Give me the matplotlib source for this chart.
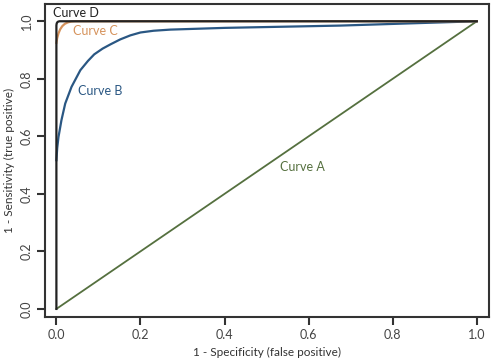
import numpy as np
import matplotlib.pyplot as plt

plt.rcParams['font.family'] = ['Lato', 'DejaVu Sans']

# curve data (false positive rate, true positive rate)
a_x = [0.0, 1.0]
a_y = [0.0, 1.0]

b_x = [0.0, 0.002, 0.005, 0.012, 0.021, 0.036, 0.057, 0.075, 0.09, 0.11, 0.129,
       0.152, 0.176, 0.2, 0.231, 0.271, 0.4, 0.676, 1.0]
b_y = [0.517, 0.56, 0.598, 0.656, 0.714, 0.772, 0.83, 0.862, 0.885, 0.905, 0.92,
       0.937, 0.951, 0.961, 0.967, 0.971, 0.977, 0.985, 1.0]

c_x = [0.0, 0.002, 0.005, 0.009, 0.014, 0.02, 0.027, 0.035, 0.045, 1.0]
c_y = [0.925, 0.942, 0.958, 0.972, 0.983, 0.991, 0.996, 0.999, 1.0, 1.0]

d_x = [0.0, 0.0, 0.0008, 0.003, 0.007, 0.012, 1.0]
d_y = [0.0, 0.986, 0.993, 0.998, 1.0, 1.0, 1.0]

ticks = [0.0, 0.2, 0.4, 0.6, 0.8, 1.0]

fig = plt.figure(figsize=(4.95, 3.64), dpi=100)
ax = fig.add_axes([0.091, 0.130, 0.896, 0.859])

ax.plot(a_x, a_y, color='#55703f', lw=1.3)
ax.plot(b_x, b_y, color='#2a5783', lw=1.6)
ax.plot(c_x, c_y, color='#d6935c', lw=1.6)
ax.plot(d_x, d_y, color='#222222', lw=1.6)

ax.text(-0.007, 1.028, 'Curve D', color='#222222', fontsize=9, va='center')
ax.text(0.04, 0.966, 'Curve C', color='#d6935c', fontsize=9, va='center')
ax.text(0.051, 0.758, 'Curve B', color='#2a5783', fontsize=9, va='center')
ax.text(0.533, 0.492, 'Curve A', color='#55703f', fontsize=9, va='center')

ax.set_xlim(-0.027, 1.028)
ax.set_ylim(-0.027, 1.06)
ax.set_xticks(ticks)
ax.set_yticks(ticks)
ax.set_xticklabels([f'{t:.1f}' for t in ticks])
ax.set_yticklabels([f'{t:.1f}' for t in ticks], rotation=90, va='center')
ax.tick_params(length=6, width=1.5, color='#333333', labelsize=9, labelcolor='#444444', pad=3)
for s in ax.spines.values():
    s.set_linewidth(1.5)
    s.set_color('#333333')

ax.set_xlabel('1 - Specificity (false positive)', fontsize=8.5, color='#333333', labelpad=4)
ax.set_ylabel('1 - Sensitivity (true positive)', fontsize=8.5, color='#333333', labelpad=4)

fig.savefig('out.png', dpi=100)
